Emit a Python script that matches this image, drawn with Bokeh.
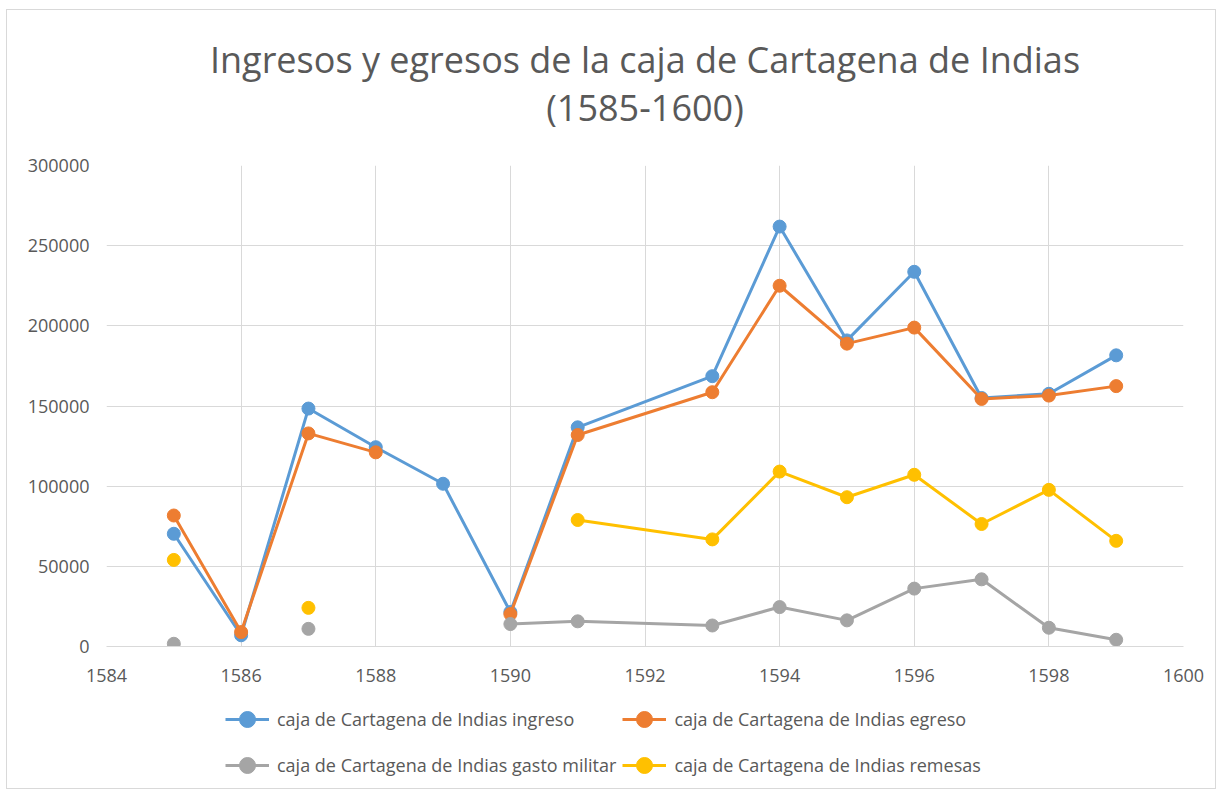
from bokeh.plotting import figure
from bokeh.layouts import column
from bokeh.models import Range1d, Title, Legend, LegendItem, FixedTicker, BasicTickFormatter, LinearAxis
from bokeh.embed import file_html
from bokeh.resources import INLINE

nan = float("nan")

years = [1585, 1586, 1587, 1588, 1589, 1590, 1591, 1593, 1594, 1595, 1596, 1597, 1598, 1599]
ingreso = [70300, 7000, 148400, 124300, 101500, 21500, 136700, 168600, 261900, 190900, 233700, 155000, 157600, 181600]
egreso = [81700, 9000, 132900, 121100, nan, 20200, 131900, 158600, 225000, 188900, 198900, 154400, 156500, 162400]
gasto_militar = [1700, nan, 11000, nan, nan, 14000, 15700, 13100, 24600, 16300, 36100, 41900, 11700, 4200]
remesas = [54000, nan, 24100, nan, nan, nan, 78900, 66800, 109100, 93100, 107100, 76400, 97700, 65900]

series = [
    ("caja de Cartagena de Indias ingreso", ingreso, "#5B9BD5"),
    ("caja de Cartagena de Indias egreso", egreso, "#ED7D31"),
    ("caja de Cartagena de Indias gasto militar", gasto_militar, "#A5A5A5"),
    ("caja de Cartagena de Indias remesas", remesas, "#FFC000"),
]

title_line1 = "Ingresos y egresos de la caja de Cartagena de Indias"
title_line2 = "(1585-1600)"
x_ticks = [1584, 1586, 1588, 1590, 1592, 1594, 1596, 1598, 1600]
y_ticks = [0, 50000, 100000, 150000, 200000, 250000, 300000]

FONT = "Open Sans"
TXT = "#595959"
GRID = "#d9d9d9"
W = 1208

p = figure(width=W, height=690, output_backend="svg", toolbar_location=None,
           x_range=Range1d(1584, 1600), y_range=Range1d(0, 300000),
           min_border_left=99, min_border_right=32, min_border_top=155, min_border_bottom=54)

xax = p.below[0]
yax = p.left[0]
for ax in (xax, yax):
    ax.major_tick_line_color = None
    ax.minor_tick_line_color = None
    ax.major_label_text_font = FONT
    ax.major_label_text_font_size = "18px"
    ax.major_label_text_color = TXT
xax.axis_line_color = GRID
yax.axis_line_color = None
xax.ticker = FixedTicker(ticks=x_ticks)
yax.ticker = FixedTicker(ticks=y_ticks)
yax.formatter = BasicTickFormatter(use_scientific=False)
xax.major_label_standoff = 16
yax.major_label_standoff = 11

p.xgrid.ticker = FixedTicker(ticks=x_ticks)
p.ygrid.ticker = FixedTicker(ticks=y_ticks)
p.xgrid.grid_line_color = GRID
p.ygrid.grid_line_color = GRID

p.outline_line_color = None
p.background_fill_color = "white"
p.border_fill_color = "white"

# blank white spacer band between the plot area and the two title lines
spacer = LinearAxis(ticker=FixedTicker(ticks=[1592]), axis_line_color=None,
                    major_tick_line_color="white", minor_tick_line_color=None,
                    major_tick_in=0, major_tick_out=35, minor_tick_out=0,
                    major_label_overrides={1592: ""}, major_label_standoff=0,
                    major_label_text_font_size="0px")
p.add_layout(spacer, "above")
p.add_layout(Title(text=title_line2, align="center", text_font=FONT,
                   text_font_size="36px", text_font_style="normal", text_color=TXT,
                   standoff=-3), "above")
p.add_layout(Title(text=title_line1, align="center", text_font=FONT, text_font_size="36px",
                   text_font_style="normal", text_color=TXT, standoff=-3), "above")

# legend lives in its own strip below the chart (frames are aligned by the column)
q = figure(width=W, height=88, output_backend="svg", toolbar_location=None,
           x_range=Range1d(0, 1), y_range=Range1d(0, 1),
           min_border_left=0, min_border_right=0, min_border_top=0, min_border_bottom=0)
q.axis.visible = False
q.grid.visible = False
q.outline_line_color = None
q.border_fill_color = "white"

items = []
for label, vals, color in series:
    p.line(years, vals, line_color=color, line_width=3)
    p.scatter(years, vals, size=13, fill_color=color, line_color=color)
    lr = q.line([nan], [nan], line_color=color, line_width=3)
    sr = q.scatter([nan], [nan], size=13, fill_color=color, line_color=color)
    items.append(LegendItem(label=label, renderers=[lr, sr]))

legend = Legend(items=items, ncols=2, orientation="horizontal", location=(119, 3),
                label_text_font=FONT, label_text_font_size="18px", label_text_color=TXT,
                glyph_width=44, glyph_height=40, label_height=40, label_standoff=8,
                spacing=6, padding=0, margin=0, border_line_color=None,
                background_fill_alpha=0)
q.add_layout(legend, "center")

layout = column(p, q, spacing=0)
layout.styles = {"border": "1px solid #d9d9d9", "margin": "9px 0px 0px 6px"}

open("out.html", "w").write(file_html(layout, INLINE))
